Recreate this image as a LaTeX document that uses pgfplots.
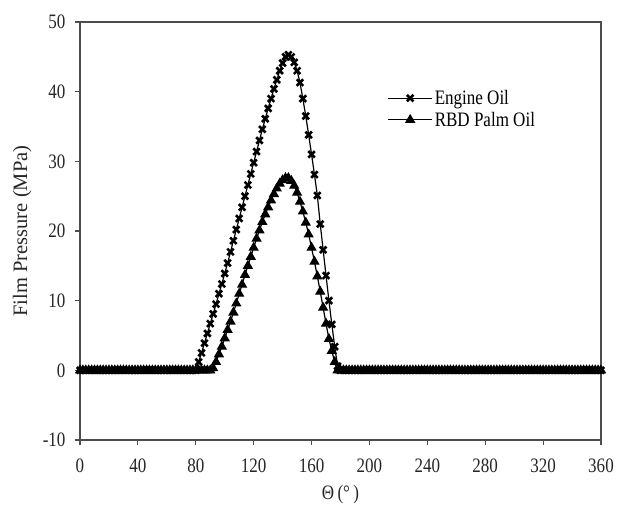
\documentclass[border=0pt]{standalone}
\usepackage{fontspec}
\setmainfont{Liberation Serif}[FakeStretch=0.83]
\newfontfamily\ylabfont{Liberation Serif}
\usepackage{pgfplots}
\pgfplotsset{compat=1.18}
\begin{document}
\begin{tikzpicture}
\begin{axis}[
  scale only axis, width=521pt, height=418pt,
  xmin=0, xmax=360, ymin=-10, ymax=50,
  xtick={0,40,...,360}, ytick={-10,0,...,50},
  tick align=outside, xtick pos=bottom, ytick pos=left,
  major tick length=5pt,
  axis line style={line width=1.1pt, black!70},
  every tick/.style={line width=1.1pt, black!70},
  font=\fontsize{20.5}{24}\selectfont,
  tick label style={black!85},
  xticklabel style={yshift=-10pt},
  yticklabel style={xshift=-6pt},
  /pgf/number format/assume math mode=true,
  /pgf/number format/1000 sep={},
  xlabel={Θ\,(°\,)},
  ylabel={Film Pressure (MPa)},
  xlabel style={at={(axis description cs:0.5,-0.131)}, anchor=center, black!85},
  ylabel style={at={(axis description cs:-0.111,0.5)}, anchor=center, black!85, font=\ylabfont\fontsize{20.5}{24}\selectfont},
  legend style={draw=none, fill=none, at={(0.59,0.842)}, anchor=north west,
    font=\fontsize{20.5}{24}\selectfont, row sep=2pt, inner sep=0pt,
    legend cell align=left},
  legend image code/.code={\draw[mark repeat=2, mark phase=2] plot coordinates {(0pt,0pt) (22pt,0pt) (44pt,0pt)};},
]
\addplot[black, line width=1.2pt, mark=x, mark size=4.6pt, mark options={line width=2.6pt}] coordinates {
(0,0)(2,0)(4,0)(6,0)(8,0)(10,0)(12,0)(14,0)(16,0)(18,0)(20,0)(22,0)(24,0)(26,0)(28,0)(30,0)(32,0)(34,0)(36,0)(38,0)
(40,0)(42,0)(44,0)(46,0)(48,0)(50,0)(52,0)(54,0)(56,0)(58,0)(60,0)(62,0)(64,0)(66,0)(68,0)(70,0)(72,0)(74,0)(76,0)(78,0)
(80,0)(82,1.2)(84,2.5)(86,3.9)(88,5.3)(90,6.7)(92,8.1)(94,9.5)(96,11.0)(98,12.4)
(100,13.9)(102,15.4)(104,17.0)(106,18.6)(108,20.2)(110,21.8)(112,23.4)(114,25.0)(116,26.6)(118,28.2)
(120,29.8)(122,31.4)(124,33.0)(126,34.6)(128,36.1)(130,37.6)(132,39.0)(134,40.4)(136,41.7)(138,43.0)
(140,44.1)(142,45.0)(144,45.3)(146,45.0)(148,44.2)(150,43.0)(152,41.3)(154,39.0)(156,36.5)(158,33.8)
(160,31.0)(162,28.1)(164,25.1)(166,21.0)(168,17.3)(170,13.6)(172,10.0)(174,6.6)(176,3.4)(178,0.6)
(180,0)(182,0)(184,0)(186,0)(188,0)(190,0)(192,0)(194,0)(196,0)(198,0)(200,0)(202,0)(204,0)(206,0)(208,0)(210,0)(212,0)(214,0)(216,0)(218,0)
(220,0)(222,0)(224,0)(226,0)(228,0)(230,0)(232,0)(234,0)(236,0)(238,0)(240,0)(242,0)(244,0)(246,0)(248,0)(250,0)(252,0)(254,0)(256,0)(258,0)
(260,0)(262,0)(264,0)(266,0)(268,0)(270,0)(272,0)(274,0)(276,0)(278,0)(280,0)(282,0)(284,0)(286,0)(288,0)(290,0)(292,0)(294,0)(296,0)(298,0)
(300,0)(302,0)(304,0)(306,0)(308,0)(310,0)(312,0)(314,0)(316,0)(318,0)(320,0)(322,0)(324,0)(326,0)(328,0)(330,0)(332,0)(334,0)(336,0)(338,0)
(340,0)(342,0)(344,0)(346,0)(348,0)(350,0)(352,0)(354,0)(356,0)(358,0)(360,0)
};
\addlegendentry{Engine Oil}
\addplot[black, line width=1.2pt, mark=triangle*, mark size=4.8pt] coordinates {
(0,0)(2,0)(4,0)(6,0)(8,0)(10,0)(12,0)(14,0)(16,0)(18,0)(20,0)(22,0)(24,0)(26,0)(28,0)(30,0)(32,0)(34,0)(36,0)(38,0)
(40,0)(42,0)(44,0)(46,0)(48,0)(50,0)(52,0)(54,0)(56,0)(58,0)(60,0)(62,0)(64,0)(66,0)(68,0)(70,0)(72,0)(74,0)(76,0)(78,0)
(80,0)(82,0)(84,0)(86,0)(88,0)(90,0)(92,0.3)(94,1.2)(96,2.3)(98,3.4)
(100,4.6)(102,5.8)(104,7.0)(106,8.3)(108,9.6)(110,11.0)(112,12.3)(114,13.7)(116,15.0)(118,16.3)
(120,17.6)(122,18.9)(124,20.1)(126,21.3)(128,22.4)(130,23.4)(132,24.4)(134,25.3)(136,26.1)(138,26.8)
(140,27.3)(142,27.6)(144,27.6)(146,27.2)(148,26.5)(150,25.5)(152,24.2)(154,22.8)(156,21.2)(158,19.5)
(160,17.6)(162,15.6)(164,13.5)(166,11.3)(168,9.0)(170,6.7)(172,4.5)(174,2.8)(176,1.2)(178,0)
(180,0)(182,0)(184,0)(186,0)(188,0)(190,0)(192,0)(194,0)(196,0)(198,0)(200,0)(202,0)(204,0)(206,0)(208,0)(210,0)(212,0)(214,0)(216,0)(218,0)
(220,0)(222,0)(224,0)(226,0)(228,0)(230,0)(232,0)(234,0)(236,0)(238,0)(240,0)(242,0)(244,0)(246,0)(248,0)(250,0)(252,0)(254,0)(256,0)(258,0)
(260,0)(262,0)(264,0)(266,0)(268,0)(270,0)(272,0)(274,0)(276,0)(278,0)(280,0)(282,0)(284,0)(286,0)(288,0)(290,0)(292,0)(294,0)(296,0)(298,0)
(300,0)(302,0)(304,0)(306,0)(308,0)(310,0)(312,0)(314,0)(316,0)(318,0)(320,0)(322,0)(324,0)(326,0)(328,0)(330,0)(332,0)(334,0)(336,0)(338,0)
(340,0)(342,0)(344,0)(346,0)(348,0)(350,0)(352,0)(354,0)(356,0)(358,0)(360,0)
};
\addlegendentry{RBD Palm Oil}
\end{axis}
\path (current axis.south west) ++(-80pt,-72pt);
\path (current axis.north east) ++(23pt,22pt);
\end{tikzpicture}
\end{document}
